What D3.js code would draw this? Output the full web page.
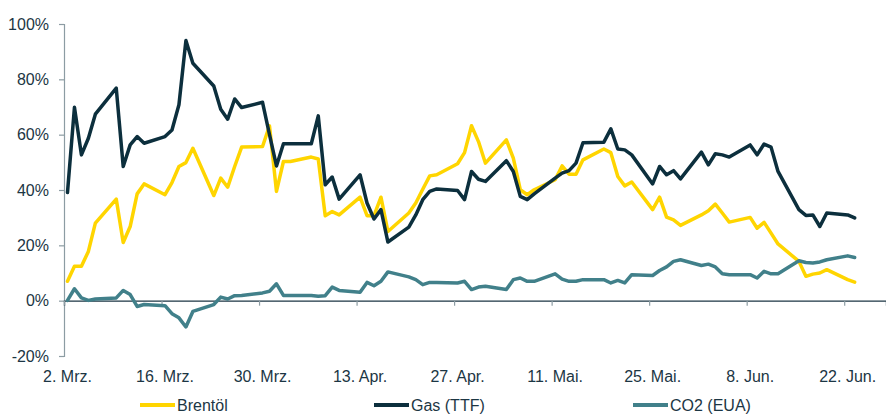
<!DOCTYPE html>
<html>
<head>
  <meta charset="UTF-8">
  <style>
    body {
      margin: 0;
      padding: 0;
      background-color: #ffffff;
      font-family: Arial, "Liberation Sans", sans-serif;
    }
    svg text {
      fill: #1c3644;
      font-size: 16px;
    }
  </style>
</head>
<body>
<svg id="chart" width="886" height="415"></svg>
<script src="https://d3js.org/d3.v7.min.js"></script>
<script>
let width = 886, height = 415;

// trading days (weekdays) from 2. Mrz. to 23. Jun. 2020
let dates = d3.timeDay.range(new Date(2020, 2, 2), new Date(2020, 5, 24))
    .filter(d => d.getDay() != 0 && d.getDay() != 6);

let brent = [
  7.0, 12.4, 12.4, 17.8, 28.0,
  36.7, 21.0, 26.8, 38.6, 42.2,
  38.3, 42.7, 48.5, 49.9, 55.1,
  38.0, 44.3, 41.0, 48.5, 55.5,
  55.7, 63.2, 39.5, 50.3, 50.3,
  51.9, 51.2, 30.7, 32.2, 31.0,
  37.4, 30.7, 30.7, 37.4, 25.0,
  31.7, 35.3, 40.3, 45.1, 45.5,
  49.5, 53.5, 63.2, 57.5, 49.7,
  58.1, 51.5, 40.1, 38.3, 40.1,
  43.7, 48.7, 45.7, 45.7, 50.9,
  54.8, 53.5, 44.9, 41.5, 42.9,
  32.9, 37.4, 30.2, 29.2, 27.2,
  31.0, 32.5, 34.9, 31.7, 28.4,
  30.1, 26.2, 28.3, 24.4, 20.5,
  14.2, 8.8, 9.6, 10.0, 11.2,
  7.6, 6.7
];

let gas = [
  39.1, 69.9, 52.7, 58.7, 67.4,
  76.8, 48.5, 56.3, 59.3, 56.9,
  59.3, 61.7, 70.8, 94.0, 85.8,
  77.6, 69.2, 65.6, 72.9, 69.8,
  71.7, 60.0, 48.7, 56.7, 56.7,
  56.7, 66.8, 41.9, 44.7, 36.7,
  45.5, 35.3, 29.5, 32.9, 21.2,
  26.6, 31.0, 36.5, 39.5, 40.4,
  39.8, 36.5, 46.7, 43.9, 43.1,
  50.6, 46.7, 37.7, 36.5, 38.6,
  44.3, 46.1, 47.0, 49.7, 57.1,
  57.3, 62.1, 54.8, 54.5, 52.7,
  42.2, 48.5, 45.5, 47.0, 44.0,
  53.7, 49.1, 53.1, 52.7, 51.9,
  56.3, 52.7, 56.6, 55.5, 46.7,
  32.9, 30.8, 31.0, 26.8, 31.7,
  31.0, 29.9
];

let co2 = [
  0.1, 4.3, 1.0, 0.1, 0.6,
  1.0, 3.7, 2.2, -2.1, -1.4,
  -1.8, -4.7, -6.2, -9.5, -3.9,
  -1.4, 1.3, 0.6, 1.8, 1.9,
  2.8, 3.4, 6.1, 1.9, 1.9,
  1.9, 1.6, 1.8, 4.9, 3.7,
  3.0, 6.6, 5.4, 7.0, 10.4,
  8.6, 7.6, 5.8, 6.6, 6.6,
  6.4, 7.0, 4.0, 4.9, 5.2,
  4.0, 7.6, 8.2, 7.0, 7.0,
  9.7, 7.8, 7.0, 7.0, 7.6,
  7.6, 6.4, 7.3, 6.4, 9.4,
  9.1, 10.9, 12.2, 14.2, 14.8,
  12.7, 13.2, 12.2, 9.7, 9.4,
  9.4, 8.2, 10.6, 9.7, 9.7,
  14.4, 13.8, 13.6, 14.0, 14.8,
  16.2, 15.6
];

let seriesNames = ["Brentöl", "Gas (TTF)", "CO2 (EUA)"];
let seriesColors = ["#ffd500", "#0c2f3d", "#41808a"];
let seriesValues = [brent, gas, co2];

let yTicks = [-20, 0, 20, 40, 60, 80, 100];
let xTickDates = d3.timeDay.range(new Date(2020, 2, 2), new Date(2020, 5, 23), 14);

let svg = d3.select("#chart");

let x = d3.scaleTime()
    .domain([new Date(2020, 2, 2), new Date(2020, 5, 28)])
    .range([64, 886]);

let y = d3.scaleLinear()
    .domain([-20, 100])
    .range([356, 24]);

let halfDay = 12 * 3600 * 1000;

// y axis
let yAxis = svg.append("g")
    .attr("transform", "translate(64,0)")
    .call(d3.axisLeft(y).tickValues(yTicks).tickSize(5).tickFormat(d => d + "%"));
yAxis.select(".domain").attr("stroke", "#8c9ca3").attr("stroke-width", 1.2);
yAxis.selectAll(".tick line").attr("stroke", "#8c9ca3").attr("stroke-width", 1.2);
yAxis.selectAll(".tick text")
    .attr("x", -15)
    .style("font-size", "16px")
    .style("font-family", "Arial, 'Liberation Sans', sans-serif")
    .attr("fill", "#1c3644");

// x axis at 0%
let xAxis = svg.append("g")
    .attr("transform", "translate(0," + y(0) + ")")
    .call(d3.axisBottom(x).tickValues(xTickDates).tickSize(5).tickFormat(""));
xAxis.select(".domain").attr("stroke", "#1c3644").attr("stroke-width", 1.3);
xAxis.selectAll(".tick line").attr("stroke", "#8c9ca3").attr("stroke-width", 1.2);

let monthNames = ["Jan.", "Feb.", "Mrz.", "Apr.", "Mai.", "Jun.", "Jul."];
svg.append("g")
    .selectAll("text")
    .data(xTickDates)
    .enter()
    .append("text")
    .attr("x", d => x(new Date(+d + halfDay)))
    .attr("y", 382)
    .attr("text-anchor", "middle")
    .text(d => d.getDate() + ". " + monthNames[d.getMonth()]);

// lines
let line = d3.line()
    .x((d, i) => x(new Date(+dates[i] + halfDay)))
    .y(d => y(d));

seriesValues.forEach((vals, k) => {
    svg.append("path")
        .datum(vals)
        .attr("fill", "none")
        .attr("stroke", seriesColors[k])
        .attr("stroke-width", 3.5)
        .attr("stroke-linejoin", "round")
        .attr("stroke-linecap", "round")
        .attr("d", line);
});

// legend
let legendX = [140, 374, 633];
let legend = svg.append("g");
seriesNames.forEach((name, k) => {
    legend.append("line")
        .attr("x1", legendX[k])
        .attr("x2", legendX[k] + 35)
        .attr("y1", 405)
        .attr("y2", 405)
        .attr("stroke", seriesColors[k])
        .attr("stroke-width", 4);
    legend.append("text")
        .attr("x", legendX[k] + 37)
        .attr("y", 411)
        .text(name);
});
</script>
</body>
</html>
